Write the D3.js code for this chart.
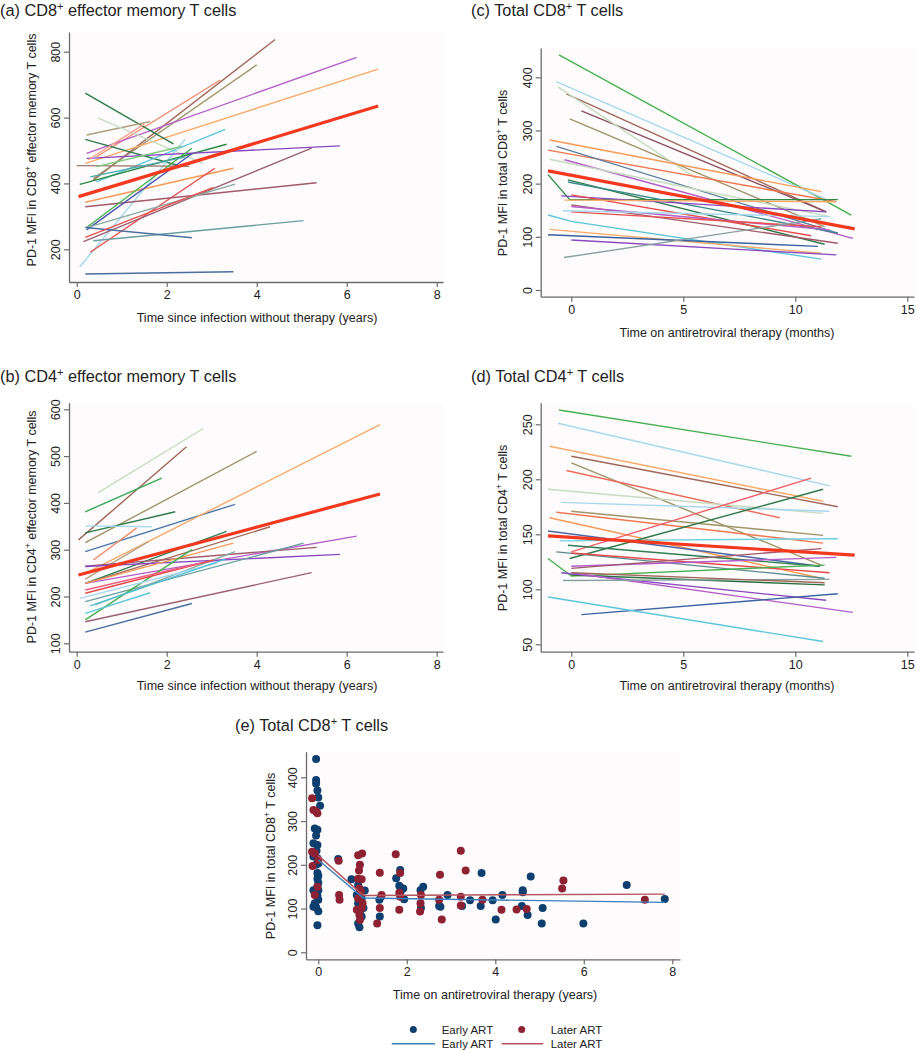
<!DOCTYPE html>
<html>
<head>
<meta charset="utf-8">
<script src="https://cdn.jsdelivr.net/npm/d3@7/dist/d3.min.js"></script>
<style>
  html, body { margin: 0; padding: 0; background: #fff; }
  svg { display: block; font-family: "Liberation Sans", Arial, Helvetica, sans-serif; }
</style>
</head>
<body>
<svg id="chart" width="916" height="1050"></svg>
<script>
// Individual PD-1 trajectories: [time, MFI] points per subject.
var aLines = [
  [[0.37, 410], [4.41, 837]], [[0.37, 415], [4.0, 760]], [[0.44, 481], [3.19, 714]],
  [[0.22, 491], [6.22, 783]], [[0.19, 461], [6.7, 747]], [[0.19, 674], [2.15, 520]],
  [[0.22, 547], [1.63, 588]], [[0.48, 598], [2.81, 461]], [[0.19, 534], [2.22, 456]],
  [[0.44, 405], [3.3, 564]], [[0.07, 147], [2.41, 534]], [[0.07, 397], [3.33, 519]],
  [[0.22, 476], [5.85, 514]], [[0.0, 454], [2.5, 452]], [[0.19, 343], [3.48, 446]],
  [[0.3, 191], [3.07, 446]], [[0.19, 329], [5.33, 402]], [[0.22, 259], [2.56, 490]],
  [[0.22, 266], [2.56, 507]], [[0.15, 223], [5.22, 507]], [[0.22, 266], [3.52, 398]],
  [[0.37, 226], [5.04, 287]], [[0.19, 266], [2.56, 235]], [[0.19, 125], [3.48, 132]],
  [[0.19, 236], [3.04, 388]], [[0.44, 451], [2.33, 512]], [[0.26, 472], [1.5, 580]],
  [[0.3, 420], [2.4, 480]]
];
var aMean = [[0.04, 360], [6.7, 635]];

var bLines = [
  [[0.48, 422], [2.81, 559]], [[0.04, 321], [2.44, 520]], [[0.19, 381], [1.89, 453]],
  [[0.19, 315], [4.0, 510]], [[0.19, 336], [2.19, 381]], [[0.19, 351], [1.67, 349]],
  [[0.19, 296], [3.52, 397]], [[0.3, 255], [6.74, 567]], [[0.37, 278], [1.33, 346]],
  [[0.19, 237], [1.59, 317]], [[0.19, 228], [3.33, 339]], [[0.19, 228], [4.3, 349]],
  [[0.19, 228], [6.22, 329]], [[0.19, 265], [5.33, 305]], [[0.19, 264], [5.85, 290]],
  [[0.19, 228], [3.48, 314]], [[0.19, 189], [5.04, 314]], [[0.41, 182], [3.52, 296]],
  [[0.19, 150], [2.56, 300]], [[0.19, 164], [1.63, 208]], [[0.07, 196], [3.11, 271]],
  [[0.19, 146], [5.22, 251]], [[0.19, 124], [2.56, 185]], [[0.19, 207], [3.04, 278]],
  [[0.19, 214], [2.74, 271]], [[0.3, 180], [3.3, 280]]
];
var bMean = [[0.04, 246], [6.74, 419]];

var cLines = [
  [[-0.55, 442], [12.5, 141]], [[-0.67, 392], [11.46, 169]], [[-0.22, 369], [11.38, 147]],
  [[0.45, 337], [11.38, 147]], [[-0.07, 322], [11.31, 119]], [[-0.6, 382], [5.58, 210]],
  [[-0.97, 282], [11.16, 185]], [[-1.04, 263], [11.83, 166]], [[-0.67, 270], [11.9, 107]],
  [[-0.3, 245], [12.57, 97]], [[-0.97, 246], [11.53, 138]],
  [[-1.04, 217], [-0.07, 170], [11.9, 170]],
  [[-0.15, 207], [11.31, 86]], [[-0.15, 203], [11.9, 107]], [[-0.45, 177], [11.38, 147]],
  [[0, 179], [10.71, 102]], [[-0.3, 169], [11.83, 166]], [[0, 160], [11.9, 88]],
  [[0, 157], [11.53, 113]], [[0, 147], [11.16, 119]], [[-0.37, 149], [11.53, 138]],
  [[-1.04, 141], [0, 129], [11.16, 58]],
  [[-0.97, 114], [11.16, 69]], [[-1.04, 104], [11.01, 82]], [[0, 94], [11.83, 66]],
  [[-0.33, 61], [11.16, 134]]
];
var cMean = [[-1.04, 224], [12.65, 115]];

var dLines = [
  [[-0.55, 263], [12.5, 221]], [[-0.6, 251], [11.53, 194]], [[-0.97, 230], [11.24, 180]],
  [[0, 221], [11.9, 175]], [[0, 215], [11.16, 122]], [[-0.22, 208], [9.3, 165]],
  [[-1.04, 191], [11.24, 169]], [[-0.45, 179], [11.53, 171]], [[0, 171], [11.24, 149]],
  [[-0.67, 170], [11.24, 142]], [[-0.97, 165], [11.16, 110]], [[-1.04, 153], [11.09, 121]],
  [[-0.52, 144], [11.9, 146]], [[0, 134], [10.71, 201]], [[-0.07, 128], [11.24, 191]],
  [[-0.67, 134], [11.31, 110]], [[-0.15, 140], [11.09, 121]], [[0, 133], [11.53, 115]],
  [[0, 121], [11.83, 129]], [[0, 119], [11.16, 137]],
  [[-1.04, 128], [0, 112], [11.31, 122]],
  [[0, 113], [11.31, 104]], [[-0.45, 115], [11.38, 90]], [[0, 115], [12.57, 79]],
  [[-0.37, 108], [11.53, 109]], [[0, 115], [11.31, 106]], [[0.45, 77], [11.9, 96]],
  [[-1.04, 93], [11.24, 52.5]]
];
var dMean = [[-1.04, 148.5], [12.65, 131]];

// Panel (e): observations by ART timing, years on therapy vs MFI
var earlyPoints = [
  [-0.05, 442], [-0.05, 394], [-0.05, 386], [-0.02, 370], [0, 354], [0.04, 335],
  [-0.08, 283], [-0.02, 280], [-0.05, 267], [-0.11, 249], [-0.02, 245], [-0.04, 232],
  [-0.11, 219], [-0.02, 215], [0, 203], [-0.02, 181], [0, 175], [-0.02, 168],
  [0, 159], [-0.02, 150], [-0.11, 142], [0, 142], [-0.02, 130], [0, 120],
  [-0.08, 112], [-0.11, 104], [-0.05, 103], [0, 94], [-0.02, 62], [-0.05, 200],
  [0.45, 213],
  [0.75, 167], [0.9, 154], [0.94, 142], [1.05, 141], [0.87, 131], [0.98, 123],
  [0.9, 112], [1.02, 101], [0.94, 89], [0.98, 82], [0.9, 66], [0.93, 57],
  [1.38, 120], [1.39, 82], [1.42, 127],
  [1.76, 169], [1.85, 188], [1.83, 152], [1.92, 146], [1.94, 121], [1.86, 139],
  [2.31, 142], [2.37, 150], [2.32, 101], [2.73, 106], [2.76, 104], [2.92, 131],
  [3.25, 106], [3.43, 119], [3.69, 181], [3.67, 106], [3.94, 119], [4.01, 75],
  [4.16, 131], [4.62, 142], [4.62, 137], [4.6, 106], [4.73, 85], [4.8, 173],
  [5.07, 101], [5.05, 66], [5.99, 66], [6.97, 154], [7.83, 122]
];
var laterPoints = [
  [-0.14, 352], [-0.11, 325], [-0.05, 322], [-0.02, 318], [-0.14, 230], [-0.08, 226],
  [-0.13, 197], [-0.02, 150], [-0.08, 131], [0, 211],
  [0.46, 209], [0.47, 131], [0.48, 120],
  [0.9, 222], [0.99, 226], [0.94, 200], [0.92, 187], [0.9, 168], [0.98, 167],
  [0.93, 146], [0.96, 139], [0.9, 123], [1.0, 112], [0.87, 97], [0.98, 101],
  [0.93, 85], [0.94, 74],
  [1.33, 66], [1.39, 182], [1.39, 101], [1.43, 131],
  [1.75, 224], [1.85, 181], [1.83, 136], [1.85, 127], [1.83, 97],
  [2.32, 131], [2.31, 112], [2.3, 93], [2.75, 177], [2.73, 120], [2.79, 75],
  [3.22, 232], [3.33, 187], [3.22, 127], [3.22, 107], [3.71, 120], [4.14, 97],
  [4.48, 98], [4.71, 99], [5.54, 164], [5.51, 146], [7.38, 120]
];
var earlyFit = [[0, 211], [1.02, 124], [7.83, 114]];
var laterFit = [[0, 221], [1.02, 130], [7.83, 133]];

var yearTicks = [0, 2, 4, 6, 8];
var monthTicks = [0, 5, 10, 15];
var aYTicks = [200, 400, 600, 800];
var bYTicks = [100, 200, 300, 400, 500, 600];
var cYTicks = [0, 100, 200, 300, 400];
var dYTicks = [50, 100, 150, 200, 250];
var eYTicks = [0, 100, 200, 300, 400];
var legendLabels = ["Early ART", "Later ART"];

// Colours cycle like Stata's per-subject lines.
var abColors = [
  "#a0685a", "#a09468", "#ee8a6a", "#b45cc8", "#f7ab6a", "#2e7a4a", "#b0a080",
  "#c6dcc0", "#2f7d52", "#5cc6da", "#a6d8ee", "#2a8a46", "#8a48c0", "#a08078",
  "#f79a58", "#e84a4a", "#a05a6a", "#4a56b0", "#48b050", "#9a6070", "#88aaa0",
  "#6a9ea0", "#4a72a0", "#4a6ea0", "#e85050", "#7cc87c", "#f4a090", "#4aa8b0"
];
var bColors = [
  "#c6dcc0", "#a0685a", "#3aa858", "#a09468", "#2e7a4a", "#a6d8ee", "#4a78a8",
  "#f7ab6a", "#ee8a6a", "#b0a080", "#2f7d52", "#a0685a", "#b45cc8", "#a05a6a",
  "#8a48c0", "#f79a58", "#6a9ea0", "#88aaa0", "#48b050", "#5cc6da", "#a6d8ee",
  "#9a6070", "#4a6ea0", "#e84a4a", "#f06080", "#50c0d8"
];
var cColors = [
  "#48b050", "#a6d8ee", "#a0685a", "#8a5060", "#a09468", "#c6dcc0", "#f79a58",
  "#f07850", "#5a7fa0", "#b45cc8", "#c6dcc0", "#2a8a46", "#2e7a4a", "#3a8a8a",
  "#8a48c0", "#e84a4a", "#f7ab6a", "#a05a6a", "#b45cc8", "#e85050", "#a6d8ee",
  "#5cc6da", "#f7ab6a", "#3a62a0", "#8a48c0", "#88a0a0"
];
var dColors = [
  "#48b050", "#a6d8ee", "#f7ab6a", "#a0685a", "#a09468", "#ee6a5a", "#c6dcc0",
  "#a6d8ee", "#a09468", "#f07850", "#f79a58", "#4a68a8", "#70d0e0", "#f06068",
  "#2e7a4a", "#5a8a90", "#2f7d52", "#e84a4a", "#b45cc8", "#a05a6a", "#48b050",
  "#2a7040", "#8a48c0", "#b45cc8", "#88a0a0", "#a0685a", "#3a62a0", "#5cc6da"
];

var svg = d3.select("#chart");
var AXIS = "#6b6b6b";
var TEXT = "#222";

// Append text with "+" superscripts: parts are strings or {sup: "..."}.
function rich(sel, parts) {
  var lift = 0;
  parts.forEach(function (p) {
    var t = sel.append("tspan");
    if (typeof p === "string") {
      if (lift) t.attr("dy", lift + "em");
      lift = 0;
      t.text(p);
    } else {
      // dy is relative to the tspan's own font size; undo it in parent ems
      t.attr("dy", "-0.55em").attr("font-size", "0.68em").text(p.sup);
      lift = 0.55 * 0.68;
    }
  });
  return sel;
}

function panel(o) {
  var f = o.frame;
  var x = d3.scaleLinear().domain(o.xAnchor[0]).range(o.xAnchor[1]);
  x.domain([x.invert(f.l), x.invert(f.r)]).range([f.l, f.r]);
  var y = d3.scaleLinear().domain(o.yAnchor[0]).range(o.yAnchor[1]);
  y.domain([y.invert(f.b), y.invert(f.t)]).range([f.b, f.t]);

  var line = d3.line()
    .x(function (d) { return x(d[0]); })
    .y(function (d) { return y(d[1]); });

  var g = svg.append("g");

  g.append("rect")
    .attr("x", f.l).attr("y", f.t)
    .attr("width", f.r - f.l).attr("height", f.b - f.t)
    .attr("fill", "#fdfbfb");

  if (o.lines) {
    g.append("g").selectAll("path")
      .data(o.lines)
      .join("path")
      .attr("d", line)
      .attr("fill", "none")
      .attr("stroke", function (d, i) { return o.colors[i % o.colors.length]; })
      .attr("stroke-width", 1.4);
  }
  if (o.mean) {
    g.append("path")
      .attr("d", line(o.mean))
      .attr("fill", "none")
      .attr("stroke", "#f2381f")
      .attr("stroke-width", 3.2);
  }
  if (o.draw) o.draw(g, x, y, line);

  var xa = g.append("g")
    .attr("transform", "translate(0," + f.b + ")")
    .call(d3.axisBottom(x).tickValues(o.xTicks).tickSize(5).tickSizeOuter(0).tickPadding(3));
  var ya = g.append("g")
    .attr("transform", "translate(" + f.l + ",0)")
    .call(d3.axisLeft(y).tickValues(o.yTicks).tickSize(5).tickSizeOuter(0));

  [xa, ya].forEach(function (a) {
    a.select(".domain").attr("stroke", AXIS).attr("stroke-width", 1.3);
    a.selectAll(".tick line").attr("stroke", AXIS).attr("stroke-width", 1.2);
    a.selectAll("text").attr("fill", TEXT).attr("font-size", 12.5)
      .attr("font-family", "'Liberation Sans', Arial, sans-serif");
  });
  ya.selectAll(".tick text")
    .attr("transform", "rotate(-90)")
    .attr("text-anchor", "middle")
    .attr("x", 0)
    .attr("y", -9)
    .attr("dy", 0);

  g.append("text")
    .attr("x", o.titlePos[0]).attr("y", o.titlePos[1])
    .attr("font-size", 16.3).attr("fill", TEXT)
    .call(rich, o.title);

  g.append("text")
    .attr("x", o.xLabelPos[0]).attr("y", o.xLabelPos[1])
    .attr("text-anchor", "middle").attr("font-size", 12.5).attr("fill", TEXT)
    .text(o.xLabel);

  g.append("text")
    .attr("transform", "translate(" + o.yLabelPos[0] + "," + o.yLabelPos[1] + ") rotate(-90)")
    .attr("text-anchor", "middle").attr("font-size", 12.5).attr("fill", TEXT)
    .call(rich, o.yLabel);
}

panel({
  title: ["(a) CD8", {sup: "+"}, " effector memory T cells"],
  titlePos: [0, 16],
  frame: {l: 69, r: 443, t: 32, b: 282},
  xAnchor: [[0, 8], [76.7, 436.7]],
  yAnchor: [[200, 800], [249.3, 51.7]],
  xTicks: yearTicks, yTicks: aYTicks,
  xLabel: "Time since infection without therapy (years)",
  xLabelPos: [257, 322],
  yLabel: ["PD-1 MFI in CD8", {sup: "+"}, " effector memory T cells"],
  yLabelPos: [36, 150],
  lines: aLines, colors: abColors, mean: aMean
});

panel({
  title: ["(b) CD4", {sup: "+"}, " effector memory T cells"],
  titlePos: [0, 382],
  frame: {l: 69, r: 443, t: 402.7, b: 651.7},
  xAnchor: [[0, 8], [76.7, 436.7]],
  yAnchor: [[100, 600], [643.3, 409.3]],
  xTicks: yearTicks, yTicks: bYTicks,
  xLabel: "Time since infection without therapy (years)",
  xLabelPos: [257, 690],
  yLabel: ["PD-1 MFI in CD4", {sup: "+"}, " effector memory T cells"],
  yLabelPos: [36, 527],
  lines: bLines, colors: bColors, mean: bMean
});

panel({
  title: ["(c) Total CD8", {sup: "+"}, " T cells"],
  titlePos: [471, 16],
  frame: {l: 540.7, r: 914, t: 48, b: 296.7},
  xAnchor: [[0, 15], [571.3, 907.3]],
  yAnchor: [[0, 400], [290, 77.3]],
  xTicks: monthTicks, yTicks: cYTicks,
  xLabel: "Time on antiretroviral therapy (months)",
  xLabelPos: [727, 337],
  yLabel: ["PD-1 MFI in total CD8", {sup: "+"}, " T cells"],
  yLabelPos: [507, 173],
  lines: cLines, colors: cColors, mean: cMean
});

panel({
  title: ["(d) Total CD4", {sup: "+"}, " T cells"],
  titlePos: [471, 382],
  frame: {l: 540.7, r: 914, t: 402.7, b: 651.7},
  xAnchor: [[0, 15], [571.3, 907.3]],
  yAnchor: [[50, 250], [644.3, 424.3]],
  xTicks: monthTicks, yTicks: dYTicks,
  xLabel: "Time on antiretroviral therapy (months)",
  xLabelPos: [727, 690],
  yLabel: ["PD-1 MFI in total CD4", {sup: "+"}, " T cells"],
  yLabelPos: [507, 528],
  lines: dLines, colors: dColors, mean: dMean
});

var EARLY_DOT = "#0f3f6f", LATER_DOT = "#8e2233";
var EARLY_LINE = "#3d7fbd", LATER_LINE = "#b5535f";

panel({
  title: ["(e) Total CD8", {sup: "+"}, " T cells"],
  titlePos: [235, 731],
  frame: {l: 306, r: 680, t: 751.7, b: 959.3},
  xAnchor: [[0, 8], [318.3, 672.3]],
  yAnchor: [[0, 400], [952.3, 777.3]],
  xTicks: yearTicks, yTicks: eYTicks,
  xLabel: "Time on antiretroviral therapy (years)",
  xLabelPos: [495, 999],
  yLabel: ["PD-1 MFI in total CD8", {sup: "+"}, " T cells"],
  yLabelPos: [275, 856],
  draw: function (g, x, y, line) {
    [[earlyPoints, EARLY_DOT], [laterPoints, LATER_DOT]].forEach(function (s) {
      g.append("g").selectAll("circle")
        .data(s[0])
        .join("circle")
        .attr("cx", function (d) { return x(d[0]); })
        .attr("cy", function (d) { return y(d[1]); })
        .attr("r", 4)
        .attr("fill", s[1]);
    });
    [[laterFit, LATER_LINE], [earlyFit, EARLY_LINE]].forEach(function (s) {
      g.append("path").attr("d", line(s[0]))
        .attr("fill", "none").attr("stroke", s[1]).attr("stroke-width", 1.4);
    });
  }
});

// Legend below panel (e)
var legend = svg.append("g").attr("font-size", 11.5).attr("fill", TEXT);
var dotRow = 1029.5, lineRow = 1043.7;
[[413.3, 441.7, EARLY_DOT, legendLabels[0]], [521.7, 550.7, LATER_DOT, legendLabels[1]]].forEach(function (d) {
  legend.append("circle").attr("cx", d[0]).attr("cy", dotRow).attr("r", 3.5).attr("fill", d[2]);
  legend.append("text").attr("x", d[1]).attr("y", dotRow + 4).text(d[3]);
});
[[391.7, 435, 441.7, EARLY_LINE, legendLabels[0]], [501.7, 543.3, 550.7, LATER_LINE, legendLabels[1]]].forEach(function (d) {
  legend.append("line").attr("x1", d[0]).attr("x2", d[1]).attr("y1", lineRow).attr("y2", lineRow)
    .attr("stroke", d[3]).attr("stroke-width", 1.4);
  legend.append("text").attr("x", d[2]).attr("y", lineRow + 4).text(d[4]);
});
</script>
</body>
</html>
